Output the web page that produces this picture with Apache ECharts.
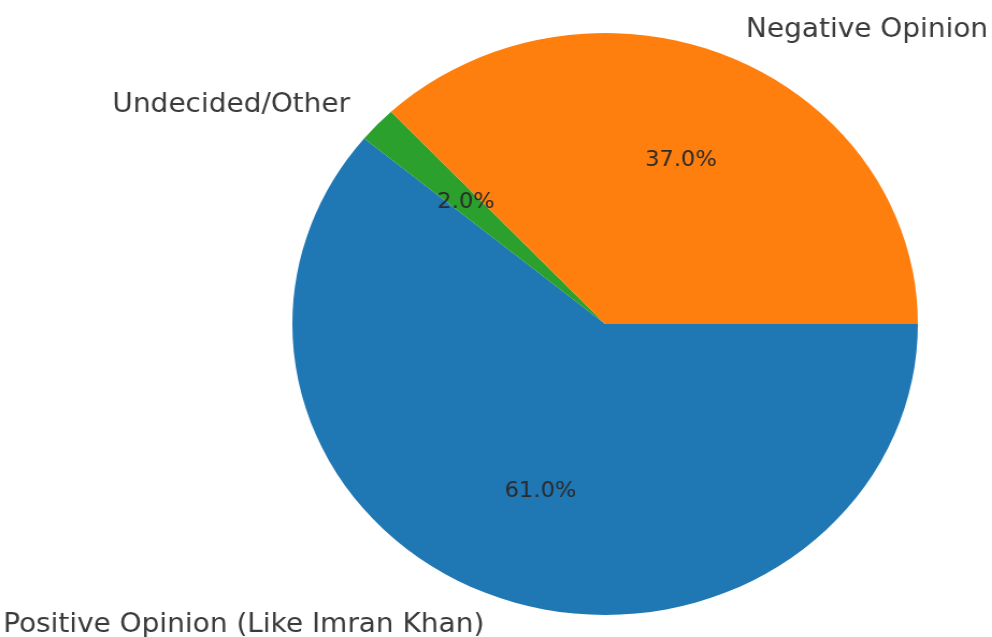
<!DOCTYPE html>
<html>
<head>
<meta charset="utf-8">
<script src="https://cdn.jsdelivr.net/npm/echarts@6/dist/echarts.min.js"></script>
<style>
  html, body { margin: 0; padding: 0; background: #fff; overflow: hidden; }
  /* the reference picture is stretched sideways a little, so the chart is too */
  #app { width: 923px; height: 637px; transform: scaleX(1.0748); transform-origin: 0 0; }
</style>
</head>
<body>
<div id="app"></div>
<script>
// slices go clockwise from 3 o'clock, like the matplotlib original
const categories = ['Positive Opinion (Like Imran Khan)', 'Undecided/Other', 'Negative Opinion'];
const shares = [61, 2, 37];
const colors = ['#1f77b4', '#2ca02c', '#ff7f0e'];

const R = 291;
const center = [563, 324];

const data = categories.map((name, i) => ({
  name,
  value: shares[i],
  itemStyle: { color: colors[i] },
}));

const eChart = echarts.init(document.getElementById('app'));

const option = {
  backgroundColor: '#fff',
  animation: false,
  series: [
    {
      type: 'pie',
      center: center,
      radius: [0, R],
      startAngle: 0,
      clockwise: true,
      avoidLabelOverlap: false,
      silent: true,
      itemStyle: { borderWidth: 0 },
      label: {
        show: true,
        position: 'outside',
        formatter: '{b}',
        fontFamily: 'DejaVu Sans',
        fontSize: 26,
        color: '#3a3a3a',
        distanceToLabelLine: 4,
      },
      labelLine: {
        show: false,
        length: 29,
        length2: 0,
      },
      data: data,
    },
    {
      // invisible ring, only here so the percentages sit at 0.6 of the radius
      type: 'pie',
      center: center,
      radius: [0, R * 1.2],
      startAngle: 0,
      clockwise: true,
      silent: true,
      itemStyle: { color: 'rgba(0,0,0,0)', borderWidth: 0 },
      label: {
        show: true,
        position: 'inside',
        formatter: (p) => p.percent.toFixed(1) + '%',
        fontFamily: 'DejaVu Sans',
        fontSize: 21,
        color: '#2b2b2b',
      },
      labelLine: { show: false },
      data: categories.map((name, i) => ({ name, value: shares[i] })),
    },
  ],
};
eChart.setOption(option);
</script>
</body>
</html>
